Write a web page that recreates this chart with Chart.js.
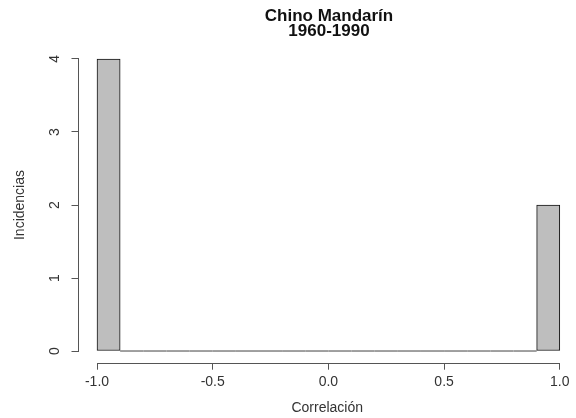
<!DOCTYPE html>
<html>
<head>
<meta charset="utf-8">
<script src="https://cdn.jsdelivr.net/npm/chart.js@4"></script>
<style>
  body { margin: 0; background: #fff; }
  #wrap { width: 576px; height: 418px; }
</style>
</head>
<body>
<div id="wrap"><canvas id="histChart"></canvas></div>
<script>
// Histogram data (R hist() style): bin edges and counts per bin
const binEdges = [-1.0, -0.9, -0.8, -0.7, -0.6, -0.5, -0.4, -0.3, -0.2, -0.1, 0.0,
  0.1, 0.2, 0.3, 0.4, 0.5, 0.6, 0.7, 0.8, 0.9, 1.0];
const counts = [4, 0, 0, 0, 0, 0, 0, 0, 0, 0, 0, 0, 0, 0, 0, 0, 0, 0, 0, 2];
const xTicks = [-1.0, -0.5, 0.0, 0.5, 1.0];
const yTicks = [0, 1, 2, 3, 4];
const titleLines = ["Chino Mandarín", "1960-1990"];
const xLabel = "Correlación";
const yLabel = "Incidencias";

const FONT = "'Liberation Sans', Arial, sans-serif";

// bars sit at the bin centers on a linear axis
const barData = counts.map((c, i) => ({
  x: (binEdges[i] + binEdges[i + 1]) / 2,
  y: c,
}));

const histPlugin = {
  id: "histExtras",
  beforeDatasetsDraw(chart) {
    // empty bins still leave their outline on the baseline
    const { ctx, scales: { x, y } } = chart;
    ctx.save();
    ctx.strokeStyle = "#808080";
    ctx.lineWidth = 1.5;
    counts.forEach((c, i) => {
      if (c !== 0) return;
      ctx.beginPath();
      ctx.moveTo(x.getPixelForValue(binEdges[i]), y.getPixelForValue(0));
      ctx.lineTo(x.getPixelForValue(binEdges[i + 1]), y.getPixelForValue(0));
      ctx.stroke();
    });
    ctx.restore();
  },
  afterDraw(chart) {
    const { ctx, chartArea, scales: { x, y } } = chart;
    ctx.save();
    // detached axis lines, only from first to last tick
    ctx.strokeStyle = "#555";
    ctx.lineWidth = 1;
    ctx.beginPath();
    const xb = Math.round(chartArea.bottom) + 0.5;
    const yl = Math.round(chartArea.left) - 0.5;
    ctx.moveTo(x.getPixelForValue(xTicks[0]), xb);
    ctx.lineTo(x.getPixelForValue(xTicks[xTicks.length - 1]), xb);
    ctx.moveTo(yl, y.getPixelForValue(yTicks[0]));
    ctx.lineTo(yl, y.getPixelForValue(yTicks[yTicks.length - 1]));
    ctx.stroke();

    // two-line bold title, centred over the plot region like R's main=
    ctx.fillStyle = "#111";
    ctx.font = "bold 17px " + FONT;
    ctx.textAlign = "center";
    ctx.textBaseline = "middle";
    titleLines.forEach((t, i) => ctx.fillText(t, 329, 16 + i * 15));
    ctx.restore();
  },
};

const ctx = document.getElementById("histChart").getContext("2d");
const histChart = new Chart(ctx, {
  type: "bar",
  data: {
    datasets: [
      {
        label: "Incidencias",
        data: barData,
        backgroundColor: "#BEBEBE",
        borderColor: "#111",
        borderWidth: 1,
        borderSkipped: false,
        barPercentage: 1,
        categoryPercentage: 1,
      },
    ],
  },
  options: {
    responsive: true,
    maintainAspectRatio: false,
    animation: false,
    layout: { padding: { top: 47.3, left: 0, right: 0, bottom: 0 } },
    plugins: {
      legend: { display: false },
      tooltip: { enabled: false },
      title: { display: false },
    },
    scales: {
      x: {
        type: "linear",
        min: -1.08,
        max: 1.07,
        offset: false,
        afterBuildTicks: (scale) => {
          scale.ticks = xTicks.map((v) => ({ value: v }));
        },
        afterFit: (scale) => {
          scale.height = 55.3;
        },
        border: { display: false },
        grid: {
          offset: false,
          drawOnChartArea: false,
          drawTicks: true,
          tickLength: 7,
          color: "#555",
        },
        ticks: {
          padding: 4.3,
          color: "#333",
          font: { family: FONT, size: 14 },
          maxRotation: 0,
          callback: (v) => Number(v).toFixed(1),
        },
        title: {
          display: true,
          text: xLabel,
          color: "#333",
          font: { family: FONT, size: 14 },
          padding: { top: 0, bottom: 1.6 },
        },
      },
      y: {
        min: -0.16,
        max: 4.16,
        afterBuildTicks: (scale) => {
          scale.ticks = yTicks.map((v) => ({ value: v }));
        },
        afterFit: (scale) => {
          scale.width = 78.5;
        },
        border: { display: false },
        grid: {
          offset: false,
          drawOnChartArea: false,
          drawTicks: true,
          tickLength: 7,
          color: "#555",
        },
        ticks: {
          padding: 12.6,
          color: "#333",
          minRotation: 90,
          maxRotation: 90,
          crossAlign: "center",
          font: { family: FONT, size: 14 },
          callback: (v) => String(v),
        },
        title: {
          display: true,
          text: yLabel,
          color: "#333",
          font: { family: FONT, size: 14 },
          padding: { top: 11.6, bottom: 0 },
        },
      },
    },
  },
  plugins: [histPlugin],
});
</script>
</body>
</html>
